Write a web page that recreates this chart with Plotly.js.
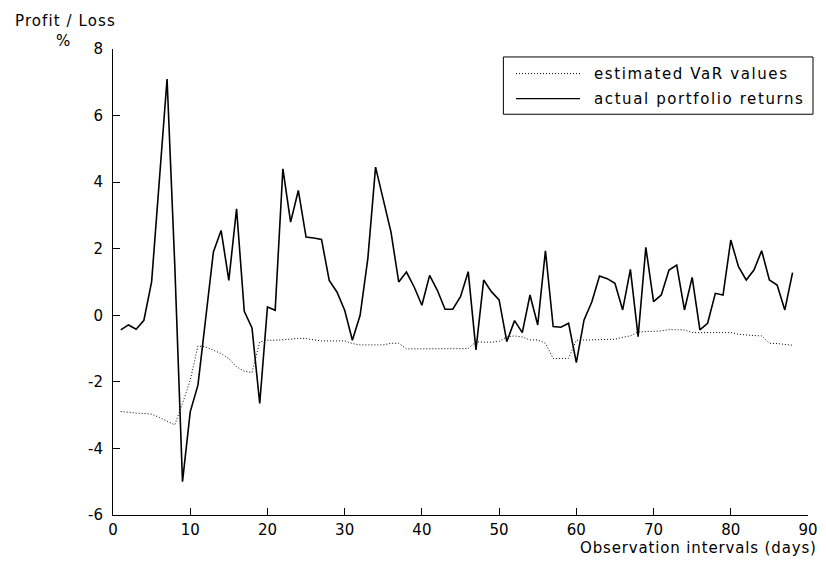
<!DOCTYPE html>
<html>
<head>
<meta charset="utf-8">
<script src="https://cdn.plot.ly/plotly-3.0.1.min.js"></script>
<style>html,body{margin:0;padding:0;background:#fff;}#chart{width:826px;height:563px;}</style>
</head>
<body>
<div id="chart"></div>
<script>
// Observation intervals (days)
var days = [];
for (var i = 1; i <= 88; i++) days.push(i);

// actual portfolio returns (%)
var actualReturns = [
  -0.44, -0.29, -0.42, -0.15, 1.0, 4.0, 7.1, 1.5, -5.0, -2.9,
  -2.1, -0.1, 1.9, 2.55, 1.05, 3.2, 0.12, -0.38, -2.65, 0.25,
  0.15, 4.4, 2.8, 3.75, 2.35, 2.32, 2.28, 1.05, 0.7, 0.15,
  -0.75, 0.0, 1.7, 4.45, 3.5, 2.5, 1.0, 1.3, 0.85, 0.3,
  1.2, 0.75, 0.18, 0.18, 0.56, 1.31, -1.04, 1.06, 0.71, 0.46,
  -0.79, -0.16, -0.52, 0.61, -0.29, 1.94, -0.34, -0.36, -0.24, -1.42,
  -0.14, 0.4, 1.18, 1.1, 0.96, 0.16, 1.38, -0.64, 2.04, 0.41,
  0.61, 1.36, 1.51, 0.16, 1.14, -0.44, -0.24, 0.66, 0.61, 2.26,
  1.46, 1.06, 1.36, 1.94, 1.06, 0.91, 0.16, 1.28
];

// estimated VaR values (%)
var varValues = [
  -2.89, -2.92, -2.94, -2.95, -2.97, -3.07, -3.18, -3.29, -2.65, -1.95,
  -0.92, -0.95, -1.05, -1.15, -1.3, -1.55, -1.68, -1.72, -0.8, -0.75,
  -0.75, -0.74, -0.72, -0.69, -0.7, -0.74, -0.77, -0.77, -0.77, -0.77,
  -0.85, -0.89, -0.89, -0.89, -0.89, -0.84, -0.84, -1.01, -1.01, -1.01,
  -1.01, -1.01, -1.01, -1.01, -1.01, -1.0, -0.8, -0.8, -0.81, -0.78,
  -0.65, -0.62, -0.65, -0.74, -0.74, -0.84, -1.3, -1.3, -1.29, -0.75,
  -0.74, -0.73, -0.73, -0.73, -0.72, -0.66, -0.62, -0.5, -0.49, -0.49,
  -0.47, -0.43, -0.43, -0.44, -0.52, -0.52, -0.52, -0.52, -0.52, -0.52,
  -0.57, -0.6, -0.61, -0.62, -0.84, -0.85, -0.87, -0.9
];

var xTicks = [0, 10, 20, 30, 40, 50, 60, 70, 80, 90];
var yTicks = [-6, -4, -2, 0, 2, 4, 6, 8];

var seriesNames = ['estimated VaR values', 'actual portfolio returns'];

var FONT = 'DejaVu Sans, Verdana, sans-serif';

function spaced(txt, px) {
  return '<span style="letter-spacing:' + px + 'px">' + txt + '</span>';
}

var traces = [
  {
    x: days, y: varValues, type: 'scatter', mode: 'lines',
    name: seriesNames[0],
    line: {color: '#000', width: 1, dash: '1px,2px'},
    showlegend: false, hoverinfo: 'skip'
  },
  {
    x: days, y: actualReturns, type: 'scatter', mode: 'lines',
    name: seriesNames[1],
    line: {color: '#000', width: 1.6},
    showlegend: false, hoverinfo: 'skip'
  }
];

var axisCommon = {
  showgrid: false, zeroline: false, showline: true,
  linecolor: '#000', linewidth: 1,
  ticks: 'inside', ticklen: 7, tickwidth: 1, tickcolor: '#000',
  tickfont: {family: FONT, size: 15, color: '#000'},
  mirror: false
};

var annFont = {family: FONT, size: 15, color: '#000'};

var layout = {
  width: 826, height: 563,
  margin: {l: 112.5, r: 17.7, t: 48.7, b: 48},
  paper_bgcolor: '#fff', plot_bgcolor: '#fff',
  font: {family: FONT, size: 15, color: '#000'},
  xaxis: Object.assign({}, axisCommon, {
    range: [0, 90], tickvals: xTicks, ticktext: xTicks.map(String),
    ticklabelstandoff: 1
  }),
  yaxis: Object.assign({}, axisCommon, {
    range: [-6, 8], tickvals: yTicks, ticktext: yTicks.map(String),
    ticklabelstandoff: 6
  }),
  shapes: [
    {type: 'rect', xref: 'paper', yref: 'paper', x0: 0.5617, x1: 1.0072, y0: 0.86, y1: 0.9829,
     line: {color: '#000', width: 1}, fillcolor: '#fff', layer: 'above'},
    {type: 'line', xref: 'paper', yref: 'paper', x0: 0.5799, x1: 0.6719, y0: 0.9472, y1: 0.9472,
     line: {color: '#000', width: 1, dash: '1px,2px'}, layer: 'above'},
    {type: 'line', xref: 'paper', yref: 'paper', x0: 0.5799, x1: 0.6719, y0: 0.8936, y1: 0.8936,
     line: {color: '#000', width: 1.4}, layer: 'above'}
  ],
  annotations: [
    {xref: 'paper', yref: 'paper', x: 0.689, y: 0.9472, xanchor: 'left', yanchor: 'middle',
     text: spaced(seriesNames[0], 1.6), showarrow: false, font: annFont},
    {xref: 'paper', yref: 'paper', x: 0.689, y: 0.8936, xanchor: 'left', yanchor: 'middle',
     text: spaced(seriesNames[1], 1.6), showarrow: false, font: annFont},
    {xref: 'paper', yref: 'paper', x: -0.1445, y: 1.0594, xanchor: 'left', yanchor: 'middle',
     text: spaced('Profit / Loss', 1.1), showarrow: false, font: annFont},
    {xref: 'paper', yref: 'paper', x: -0.0719, y: 1.0165, xanchor: 'center', yanchor: 'middle',
     text: '%', showarrow: false, font: annFont},
    {xref: 'paper', yref: 'paper', x: 1.0155, y: -0.0708, xanchor: 'right', yanchor: 'middle',
     text: spaced('Observation intervals (days)', 0.85), showarrow: false, font: annFont}
  ]
};

Plotly.newPlot('chart', traces, layout, {staticPlot: true, displayModeBar: false});
</script>
</body>
</html>
